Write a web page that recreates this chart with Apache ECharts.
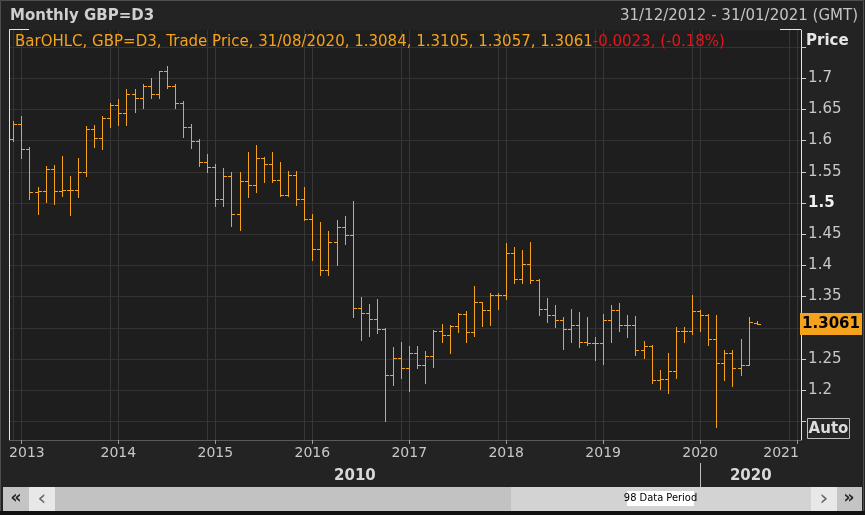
<!DOCTYPE html>
<html><head><meta charset="utf-8">
<script src="https://cdn.jsdelivr.net/npm/echarts@6/dist/echarts.min.js"></script>
<style>html,body{margin:0;padding:0;background:#232323;}#c{width:865px;height:515px;}</style>
</head><body><div id="c"></div>
<script>
// Monthly bars, Dec 2012 .. Aug 2020 (index 0 = Dec 2012)
const openP = [1.6020,1.6260,1.5860,1.5170,1.5200,1.5540,1.5200,1.5210,1.5210,1.5500,
 1.6190,1.6040,1.6370,1.6570,1.6440,1.6750,1.6680,1.6880,1.6750,1.7110,
 1.6880,1.6600,1.6210,1.6000,1.5650,1.5580,1.5060,1.5440,1.4830,1.5360,
 1.5290,1.5720,1.5620,1.5370,1.5130,1.5450,1.5070,1.4740,1.4260,1.3930,
 1.4380,1.4620,1.4490,1.3320,1.3240,1.3140,1.2980,1.2250,1.2510,1.2350,
 1.2590,1.2400,1.2550,1.2950,1.2890,1.3030,1.3220,1.2940,1.3410,1.3290,
 1.3530,1.3520,1.4200,1.3780,1.4020,1.3770,1.3300,1.3210,1.3130,1.2985,
 1.3040,1.2780,1.2760,1.2760,1.3120,1.3280,1.3050,1.3050,1.2640,1.2710,
 1.2170,1.2180,1.2310,1.2950,1.2945,1.3265,1.3205,1.2825,1.2440,1.2600,
 1.2360,1.2400,1.3084];
const highP = [1.6320,1.6390,1.5900,1.5250,1.5600,1.5610,1.5760,1.5440,1.5720,1.6230,
 1.6250,1.6390,1.6610,1.6670,1.6830,1.6820,1.6900,1.7000,1.7110,1.7190,
 1.6910,1.6640,1.6260,1.6030,1.5790,1.5620,1.5560,1.5500,1.5500,1.5820,
 1.5930,1.5740,1.5820,1.5660,1.5510,1.5510,1.5250,1.4830,1.4700,1.4550,
 1.4720,1.4790,1.5040,1.3490,1.3380,1.3460,1.2990,1.2690,1.2780,1.2710,
 1.2710,1.2630,1.2970,1.3060,1.3040,1.3230,1.3270,1.3670,1.3420,1.3560,
 1.3560,1.4360,1.4290,1.4250,1.4380,1.3780,1.3480,1.3370,1.3170,1.3300,
 1.3260,1.3180,1.2850,1.3220,1.3360,1.3390,1.3210,1.3190,1.2790,1.2720,
 1.2320,1.2600,1.3015,1.3015,1.3530,1.3285,1.3220,1.3210,1.2650,1.2640,
 1.2820,1.3175,1.3105];
const lowP = [1.5990,1.5720,1.5070,1.4830,1.5020,1.4990,1.5110,1.4810,1.5100,1.5430,
 1.5890,1.5870,1.6210,1.6250,1.6250,1.6460,1.6520,1.6690,1.6690,1.6850,
 1.6530,1.6050,1.5880,1.5590,1.5490,1.4950,1.4950,1.4630,1.4570,1.5090,
 1.5170,1.5330,1.5330,1.5110,1.5110,1.4960,1.4720,1.4080,1.3840,1.3840,
 1.4010,1.4340,1.3180,1.2800,1.2870,1.2910,1.1500,1.2090,1.2200,1.1990,
 1.2350,1.2110,1.2370,1.2775,1.2590,1.2930,1.2775,1.2870,1.3030,1.3050,
 1.3300,1.3460,1.3710,1.3710,1.3710,1.3200,1.3100,1.3010,1.2660,1.2780,
 1.2700,1.2720,1.2480,1.2420,1.2780,1.2950,1.2860,1.2560,1.2510,1.2120,
 1.2015,1.1960,1.2200,1.2770,1.2905,1.2955,1.2730,1.1410,1.2165,1.2075,
 1.2250,1.2400,1.3057];
const closeP = [1.6260,1.5860,1.5170,1.5200,1.5540,1.5200,1.5210,1.5210,1.5500,1.6190,
 1.6040,1.6370,1.6570,1.6440,1.6750,1.6680,1.6880,1.6750,1.7110,1.6880,
 1.6600,1.6210,1.6000,1.5650,1.5580,1.5060,1.5440,1.4830,1.5360,1.5290,
 1.5720,1.5620,1.5370,1.5130,1.5450,1.5070,1.4740,1.4260,1.3930,1.4380,
 1.4620,1.4490,1.3320,1.3240,1.3140,1.2980,1.2250,1.2510,1.2350,1.2590,
 1.2400,1.2550,1.2950,1.2890,1.3030,1.3220,1.2940,1.3410,1.3290,1.3530,
 1.3520,1.4200,1.3780,1.4020,1.3770,1.3300,1.3210,1.3130,1.2985,1.3040,
 1.2780,1.2760,1.2760,1.3120,1.3280,1.3050,1.3050,1.2640,1.2710,1.2170,
 1.2180,1.2310,1.2950,1.2945,1.3265,1.3205,1.2825,1.2440,1.2600,1.2360,
 1.2400,1.3095,1.3061];

// 98 monthly periods: 31/12/2012 .. 31/01/2021
const months = [];
for (let k = 0; k < 98; k++) { const m = (11 + k) % 12, y = 2012 + Math.floor((11 + k) / 12); months.push(y + '-' + String(m + 1).padStart(2, '0')); }
const yearTickIdx = [1,13,25,37,49,61,73,85,97];
const yearLabels = ['2013','2014','2015','2016','2017','2018','2019','2020','2021'];
const decTickIdx = [0,12,24,36,48,60,72,84,96];
const priceTicks = [1.15,1.2,1.25,1.3,1.35,1.4,1.45,1.5,1.55,1.6,1.65,1.7,1.75];
const priceLabelVals = [1.2,1.25,1.35,1.4,1.45,1.5,1.55,1.6,1.65,1.7];
const decadeLabels = ['2010','2020'];
const decadeStartIdx = [-0.5, 85];
const legendMain = 'BarOHLC, GBP=D3, Trade Price, 31/08/2020, 1.3084, 1.3105, 1.3057, 1.3061';
const legendChange = '-0.0023, (-0.18%)';

const FONT = 'DejaVu Sans';
const ORANGE = '#f5a21c';
const barData = openP.map((o, i) => [i, o, highP[i], lowP[i], closeP[i]]);

const chart = echarts.init(document.getElementById('c'), null, {renderer: 'canvas'});

function renderBar(params, api) {
  const i = api.value(0);
  const pH = api.coord([i, api.value(2)]);
  const pL = api.coord([i, api.value(3)]);
  const pO = api.coord([i, api.value(1)]);
  const pC = api.coord([i, api.value(4)]);
  const x = Math.round(pH[0]);
  const yh = Math.round(pH[1]), yl = Math.round(pL[1]);
  const yo = Math.round(pO[1]), yc = Math.round(pC[1]);
  const fill = () => ({fill: ORANGE, stroke: null, opacity: 1});
  return {type: 'group', children: [
    {type: 'rect', shape: {x: x, y: yh, width: 1, height: Math.max(1, yl - yh + 1)}, style: fill(), silent: true},
    {type: 'rect', shape: {x: x - 3, y: yo, width: 3, height: 1}, style: fill(), silent: true},
    {type: 'rect', shape: {x: x + 1, y: yc, width: 3, height: 1}, style: fill(), silent: true}
  ]};
}

const xAxisBase = {type: 'value', min: -0.5, max: 97.5};
const option = {
  backgroundColor: '#232323',
  animation: false,
  grid: {left: 9.3, right: 63.9, top: 30, bottom: 75, show: true, backgroundColor: '#1e1e1e', borderWidth: 0},
  xAxis: [Object.assign({}, xAxisBase, {
    axisLine: {show: true, onZero: false, lineStyle: {color: '#5a5a5a', width: 1}},
    axisTick: {show: true, customValues: yearTickIdx, length: 4, lineStyle: {color: '#9a9a9a'}},
    axisLabel: {
      customValues: yearTickIdx, margin: 6, color: '#c8c8c8', fontFamily: FONT, fontSize: 14,
      formatter: v => {
        const k = yearTickIdx.indexOf(Math.round(v));
        const s = yearLabels[k];
        if (k === 0) return '{f|' + s + '}';
        if (k === yearLabels.length - 1) return '{l|' + s + '}';
        return s;
      },
      rich: {
        f: {padding: [0, 0, 0, 11], color: '#c8c8c8', fontFamily: FONT, fontSize: 14},
        l: {padding: [0, 32, 0, 0], color: '#c8c8c8', fontFamily: FONT, fontSize: 14}
      }
    },
    splitLine: {show: true, lineStyle: {color: '#363636', width: 1}}
  }), Object.assign({}, xAxisBase, {
    position: 'bottom',
    axisLine: {show: false, onZero: false}, axisLabel: {show: false},
    axisTick: {show: false, customValues: decTickIdx},
    splitLine: {show: true, lineStyle: {color: '#363636', width: 1}}
  })],
  yAxis: {
    type: 'value', position: 'right', min: 1.12019, max: 1.77724,
    axisLine: {show: true, onZero: false, lineStyle: {color: '#e6e6e6', width: 1}},
    axisTick: {show: true, customValues: priceTicks, length: 5, lineStyle: {color: '#cfcfcf'}},
    axisLabel: {
      customValues: priceLabelVals, margin: 7, color: '#c8c8c8', fontFamily: FONT, fontSize: 15,
      formatter: v => { const s = String(+v.toFixed(2)); return Math.abs(v - 1.5) < 1e-9 ? '{b|' + s + '}' : s; },
      rich: {b: {fontWeight: 'bold', color: '#f0f0f0', fontFamily: FONT, fontSize: 15}}
    },
    splitLine: {show: true, lineStyle: {color: '#333333', width: 1}}
  },
  series: [{
    type: 'custom', name: 'GBP=D3', renderItem: renderBar, z: 3, silent: true,
    encode: {x: 0, y: [1, 2, 3, 4]}, data: barData, clip: false,
    itemStyle: {color: ORANGE}, emphasis: {disabled: true}
  }]
};
chart.setOption(option);

const xDec0 = chart.convertToPixel({xAxisIndex: 0}, decadeStartIdx[0]);
const xDec1 = chart.convertToPixel({xAxisIndex: 0}, decadeStartIdx[1]);
const xEnd = chart.convertToPixel({xAxisIndex: 0}, 97.5);
const sep = Math.round(xDec1) + 0.5;
const lastClose = closeP[closeP.length - 1];
const yLast = chart.convertToPixel({yAxisIndex: 0}, lastClose);

const gray = '#c4c4c4', light = '#e8e8e8';
chart.setOption({graphic: [
  {type: 'rect', shape: {x: 0.5, y: 0.5, width: 863, height: 512}, style: {fill: null, stroke: '#4e4e4e', lineWidth: 1}, silent: true},
  {type: 'text', x: 10, y: 16, style: {text: 'Monthly GBP=D3', fill: '#cfcfcf', font: 'bold 15px "DejaVu Sans"', verticalAlign: 'middle'}},
  {type: 'text', x: 858, y: 16, style: {text: '31/12/2012 - 31/01/2021 (GMT)', fill: '#c4c4c4', font: '15px "DejaVu Sans"', align: 'right', verticalAlign: 'middle'}},
  {type: 'text', x: 15, y: 42, style: {text: '{a|' + legendMain + '}{b|' + legendChange + '}', verticalAlign: 'middle',
     rich: {a: {fill: ORANGE, font: '15px "DejaVu Sans"'}, b: {fill: '#e5151b', font: '15px "DejaVu Sans"'}}}},
  {type: 'text', x: 806, y: 41, style: {text: 'Price', fill: '#e6e6e6', font: 'bold 15px "DejaVu Sans"', verticalAlign: 'middle'}},
  {type: 'line', shape: {x1: 9.5, y1: 29.5, x2: 9.5, y2: 440.5}, style: {stroke: '#e6e6e6', lineWidth: 1}},
  {type: 'line', shape: {x1: 9.5, y1: 29.5, x2: 29, y2: 29.5}, style: {stroke: '#e6e6e6', lineWidth: 1}},
  {type: 'line', shape: {x1: 780, y1: 29.5, x2: 801, y2: 29.5}, style: {stroke: '#e6e6e6', lineWidth: 1}},
  {type: 'line', shape: {x1: 9.5, y1: 440.5, x2: 30, y2: 440.5}, style: {stroke: '#e6e6e6', lineWidth: 1}},
  {type: 'line', shape: {x1: 780, y1: 440.5, x2: 801, y2: 440.5}, style: {stroke: '#e6e6e6', lineWidth: 1}},
  {type: 'rect', shape: {x: 800, y: Math.round(yLast) - 11, width: 62, height: 22}, style: {fill: ORANGE}, z: 10},
  {type: 'text', x: 831, y: Math.round(yLast) + 0.5, z: 11, style: {text: lastClose.toFixed(4), fill: '#000', font: 'bold 15px "DejaVu Sans"', align: 'center', verticalAlign: 'middle'}},
  {type: 'rect', shape: {x: 807.5, y: 418.5, width: 42, height: 20}, style: {fill: '#262626', stroke: '#bdbdbd', lineWidth: 1}},
  {type: 'text', x: 828.5, y: 429, style: {text: 'Auto', fill: '#dcdcdc', font: 'bold 15px "DejaVu Sans"', align: 'center', verticalAlign: 'middle'}},
  {type: 'text', x: (xDec0 + sep) / 2, y: 476, style: {text: decadeLabels[0], fill: '#d8d8d8', font: 'bold 15px "DejaVu Sans"', align: 'center', verticalAlign: 'middle'}},
  {type: 'text', x: (sep + xEnd) / 2, y: 476, style: {text: decadeLabels[1], fill: '#d8d8d8', font: 'bold 15px "DejaVu Sans"', align: 'center', verticalAlign: 'middle'}},
  {type: 'line', shape: {x1: sep, y1: 463, x2: sep, y2: 487}, style: {stroke: '#bdbdbd', lineWidth: 1}},
  {type: 'rect', shape: {x: 3, y: 487, width: 26, height: 24}, style: {fill: gray}},
  {type: 'rect', shape: {x: 29, y: 487, width: 26, height: 24}, style: {fill: light}},
  {type: 'rect', shape: {x: 55, y: 487, width: 456, height: 24}, style: {fill: '#c2c2c2'}},
  {type: 'rect', shape: {x: 511, y: 487, width: 300, height: 24}, style: {fill: '#d3d3d3'}},
  {type: 'rect', shape: {x: 811, y: 487, width: 26, height: 24}, style: {fill: light}},
  {type: 'rect', shape: {x: 837, y: 487, width: 25, height: 24}, style: {fill: gray}},
  {type: 'rect', shape: {x: 0, y: 511, width: 865, height: 4}, style: {fill: '#111111'}},
  {type: 'text', x: 16, y: 499, style: {text: '«', fill: '#222', font: 'bold 17px "DejaVu Sans"', align: 'center', verticalAlign: 'middle'}},
  {type: 'text', x: 42, y: 499, style: {text: '‹', fill: '#666', font: '22px "DejaVu Sans"', align: 'center', verticalAlign: 'middle'}},
  {type: 'text', x: 824, y: 499, style: {text: '›', fill: '#666', font: '22px "DejaVu Sans"', align: 'center', verticalAlign: 'middle'}},
  {type: 'text', x: 849, y: 499, style: {text: '»', fill: '#222', font: 'bold 17px "DejaVu Sans"', align: 'center', verticalAlign: 'middle'}},
  {type: 'rect', shape: {x: 627, y: 491, width: 67, height: 15}, style: {fill: '#ffffff'}},
  {type: 'text', x: 660.5, y: 498.5, style: {text: months.length + ' Data Period', fill: '#000', font: '11px "Liberation Sans Narrow", "DejaVu Sans Condensed", "Liberation Sans"', align: 'center', verticalAlign: 'middle'}}
]});
</script></body></html>
